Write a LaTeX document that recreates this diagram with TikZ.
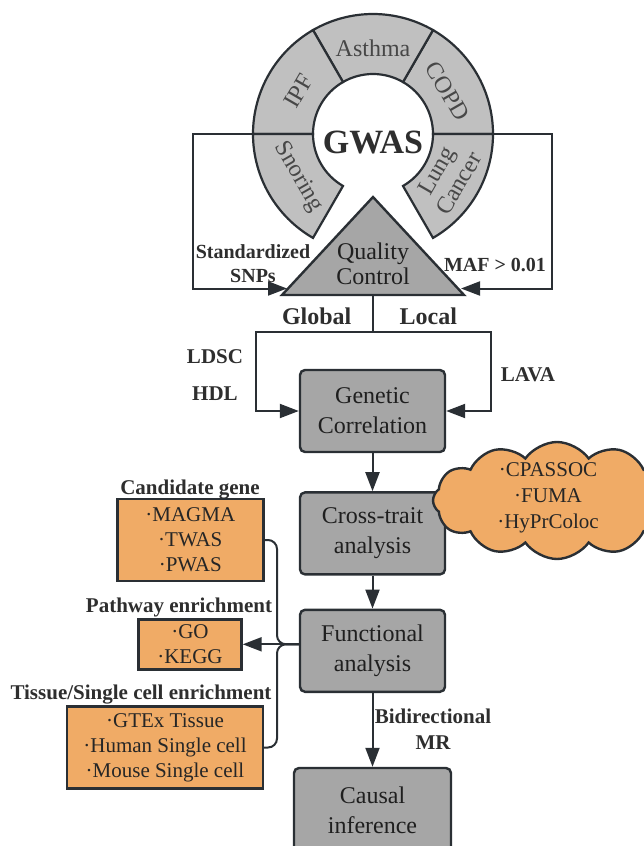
\documentclass[tikz,border=0pt]{standalone}
\usepackage{fontspec}
\setmainfont{Liberation Serif}
\usetikzlibrary{positioning,calc,arrows.meta,shapes.symbols}
\definecolor{inkgrey}{HTML}{2A2F34}
\definecolor{boxgrey}{HTML}{A6A6A6}
\definecolor{ringgrey}{HTML}{C0C0C0}
\definecolor{toolorange}{HTML}{F0AB66}
\definecolor{labelink}{HTML}{2E2E2E}
\tikzset{
  ringseg/.style={draw=inkgrey,line width=2.2bp,fill=ringgrey},
  seglabel/.style={font=\fontsize{24bp}{26bp}\selectfont,text=black!72,align=center,inner sep=0pt},
  qcshape/.style={draw=inkgrey,line width=2.4bp,fill=boxgrey},
  stagebox/.style={draw=inkgrey,line width=2.4bp,fill=boxgrey,rounded corners=5bp,
    minimum width=145bp,minimum height=82bp,align=center,inner sep=0pt,
    font=\fontsize{24bp}{30bp}\selectfont,text=black!88},
  toolbox/.style={draw=inkgrey,line width=2.4bp,fill=toolorange,align=center,inner sep=0pt,
    font=\fontsize{21bp}{25bp}\selectfont,text=black!85},
  toolcloud/.style={cloud,cloud puffs=12,cloud puff arc=110,aspect=2.3,draw=inkgrey,
    line width=2.4bp,fill=toolorange,minimum width=248bp,minimum height=117bp,inner sep=0pt},
  tooltitle/.style={font=\bfseries\fontsize{21bp}{25bp}\selectfont,text=labelink,inner sep=0pt},
  steplabel/.style={font=\bfseries\fontsize{21bp}{26bp}\selectfont,text=labelink,align=center,inner sep=0pt},
  wire/.style={draw=inkgrey,line width=2bp},
  flow/.style={wire,-{Triangle[length=19bp,width=14bp]}}
}

\begin{document}
\begin{tikzpicture}[x=1bp,y=1bp]
  \useasboundingbox (0,0) rectangle (644,-846);
  % GWAS ring
  \coordinate (gc) at (373,-134);
  \foreach \a/\b in {0/60,60/120,120/180,180/240,300/360}
    \draw[ringseg] ($(gc)+(\a:120)$) arc[start angle=\a,end angle=\b,radius=120]
      -- ($(gc)+(\b:60)$) arc[start angle=\b,end angle=\a,radius=60] -- cycle;
  \foreach \m/\r/\t/\n in {90/0/Asthma/asthma,150/60/IPF/ipf,30/-60/COPD/copd,
                           210/-60/Snoring/snoring,-30/60/{Lung\\Cancer}/lung}
    \node[seglabel,rotate=\r] (\n) at ($(gc)+(\m:86)$) {\t};
  \node[font=\bfseries\fontsize{34bp}{34bp}\selectfont,text=labelink,inner sep=0pt]
        (gwas) at (373,-142.5) {GWAS};
  % quality control
  \coordinate (qcTop) at (373,-197);
  \coordinate (qcL) at (282,-295);
  \coordinate (qcR) at (464,-295);
  \coordinate (qcBase) at (373,-295);
  \draw[qcshape] (qcTop) -- (qcR) -- (qcL) -- cycle;
  \node[font=\fontsize{24bp}{25bp}\selectfont,align=center,inner sep=0pt,text=black!88]
        (qc) at (373,-264) {Quality\\Control};
  \coordinate (ringW) at (253,-134);
  \coordinate (ringE) at (493,-134);
  \coordinate (fbW) at (193,-134);
  \coordinate (fbE) at (552,-134);
  \coordinate (qcInL) at (287,-288.5);
  \coordinate (qcInR) at (461,-288.5);
  \draw[flow] (ringW) -- (fbW) |- (qcInL);
  \draw[flow] (ringE) -- (fbE) |- (qcInR);
  \node[steplabel,font=\bfseries\fontsize{20bp}{24bp}\selectfont] (snps) at (253,-264) {Standardized\\SNPs};
  \node[steplabel,font=\bfseries\fontsize{20bp}{24bp}\selectfont] (maf) at (495,-265) {MAF > 0.01};
  % main stages
  \node[stagebox] (gen) at (372.5,-411) {Genetic\\Correlation};
  \node[stagebox,below=38bp of gen] (cross) {Cross-trait\\analysis};
  \node[stagebox,below=33bp of cross] (func) {Functional\\analysis};
  \node[stagebox,minimum width=157bp,minimum height=84bp] (causal) at (372.5,-810) {Causal\\inference};
  % global / local split
  \coordinate (qcSplit) at (373,-332);
  \coordinate (glob) at (256,-332);
  \coordinate (loc) at (491,-332);
  \draw[wire] (qcBase) -- (qcSplit);
  \draw[flow] (qcSplit) -- (glob) |- (gen.west);
  \draw[flow] (qcSplit) -- (loc) |- (gen.east);
  \node[steplabel,font=\bfseries\fontsize{24bp}{26bp}\selectfont] (globT) at (316.7,-316.7) {Global};
  \node[steplabel,font=\bfseries\fontsize{24bp}{26bp}\selectfont] (locT) at (428.3,-316.7) {Local};
  \node[steplabel] (ldsc) at (215,-356.7) {LDSC};
  \node[steplabel] (hdl) at (215,-393.3) {HDL};
  \node[steplabel] (lava) at (528,-375) {LAVA};
  \draw[flow] (gen.south) -- (cross.north);
  \draw[flow] (cross.south) -- (func.north);
  \draw[flow] (func.south) -- (causal.north);
  \node[steplabel] (mr) at (433,-729) {Bidirectional\\MR};
  % colocalisation tools
  \node[toolcloud] (coloc) at (557,-500.5) {};
  \node[toolbox,draw=none,fill=none,font=\fontsize{21bp}{26bp}\selectfont] (colocT) at (548,-497.5)
        {·CPASSOC\\·FUMA\\·HyPrColoc};
  % functional annotation groups
  \node[tooltitle] (candT) at (190,-490) {Candidate gene};
  \node[toolbox,minimum width=146bp,minimum height=82bp] (cand) at (190.3,-540) {·MAGMA\\·TWAS\\·PWAS};
  \node[tooltitle] (pathT) at (179,-607) {Pathway enrichment};
  \node[toolbox,minimum width=103bp,minimum height=50bp] (path) at (190,-644.3) {·GO\\·KEGG};
  \node[tooltitle] (tissT) at (141,-695) {Tissue/Single cell enrichment};
  \node[toolbox,minimum width=196bp,minimum height=82bp] (tiss) at (165,-747.5)
        {·GTEx Tissue\\·Human Single cell\\·Mouse Single cell};
  \coordinate (brJ) at (277,-644.3);
  \draw[wire,rounded corners=9bp] (cand.east) -| (brJ) -- (brJ -| func.west);
  \draw[wire,rounded corners=9bp] (tiss.east) -| (brJ) -- (brJ -| func.west);
  \draw[flow] (func.west |- path.east) -- (path.east);
\end{tikzpicture}
\end{document}
